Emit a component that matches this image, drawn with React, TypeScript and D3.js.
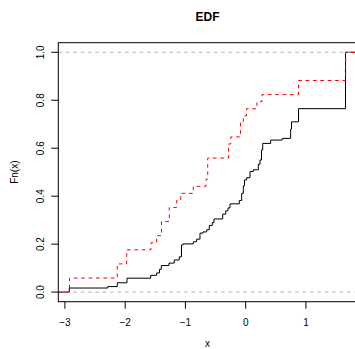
import React from "react";
import * as d3 from "d3";

// Black series: jump locations and level after each jump
const blackX = [-2.927, -2.29, -2.131, -1.97, -1.576, -1.477, -1.43, -1.4, -1.273, -1.185, -1.102, -1.065, -1.04, -0.869, -0.813, -0.758, -0.708, -0.647, -0.604, -0.554, -0.526, -0.381, -0.331, -0.293, -0.26, -0.106, -0.066, -0.039, -0.019, 0.017, 0.072, 0.127, 0.21, 0.238, 0.263, 0.283, 0.415, 0.608, 0.747, 0.761, 0.877, 1.657];
const blackF = [0.017, 0.023, 0.039, 0.058, 0.07, 0.08, 0.095, 0.111, 0.121, 0.134, 0.147, 0.197, 0.201, 0.21, 0.221, 0.246, 0.251, 0.26, 0.278, 0.29, 0.305, 0.325, 0.339, 0.351, 0.368, 0.382, 0.412, 0.443, 0.468, 0.477, 0.503, 0.51, 0.533, 0.551, 0.593, 0.62, 0.634, 0.641, 0.68, 0.71, 0.765, 1.0];

// Red series (n = 34, with ties)
const redX = [-2.924, -2.131, -1.975, -1.571, -1.477, -1.397, -1.268, -1.145, -1.078, -0.869, -0.658, -0.63, -0.285, -0.247, -0.086, -0.039, 0.014, 0.188, 0.271, 0.877, 1.66];
const redCounts = [2, 4, 6, 7, 8, 10, 12, 13, 14, 15, 16, 19, 21, 22, 24, 25, 26, 27, 28, 30, 34];
const redN = 34;

const xTicks = [-3, -2, -1, 0, 1];
const yTicks = [0, 0.2, 0.4, 0.6, 0.8, 1.0];
const xLim: [number, number] = [-3.11, 1.843];
const yLim: [number, number] = [-0.04, 1.04];

const W = 355;
const H = 349;
const L = 58.3;
const R = 356.7;
const T = 42.7;
const B = 301.7;

export default function App() {
  const x = d3.scaleLinear().domain(xLim).range([L, R]);
  const y = d3.scaleLinear().domain(yLim).range([B, T]);

  const line = d3
    .line<[number, number]>()
    .x((d) => x(d[0]))
    .y((d) => y(d[1]))
    .curve(d3.curveStepAfter);

  const blackPts: [number, number][] = [[xLim[0], 0], ...blackX.map((v, i) => [v, blackF[i]] as [number, number]), [xLim[1], 1]];
  const redPts: [number, number][] = [[xLim[0], 0], ...redX.map((v, i) => [v, redCounts[i] / redN] as [number, number]), [xLim[1], 1]];

  const font = "'Liberation Sans', Arial, Helvetica, sans-serif";
  const fmtX = (v: number) => (v < 0 ? "\u2212" + Math.abs(v) : String(v));

  return (
    <svg width={W} height={H} style={{ position: "absolute", left: 0, top: 0, background: "#fff" }} fontFamily={font}>
      <defs>
        <clipPath id="plotclip">
          <rect x={L} y={T} width={R - L} height={B - T} />
        </clipPath>
      </defs>
      <g clipPath="url(#plotclip)">
        <path d={line(blackPts) || ""} fill="none" stroke="#000" strokeWidth={1} />
        {[0, 1].map((v) => (
          <line key={"g" + v} x1={L} x2={R} y1={y(v)} y2={y(v)} stroke="#b3b3b3" strokeWidth={1} strokeDasharray="3.7,3.7" />
        ))}
        <path d={line(redPts) || ""} fill="none" stroke="#ff0000" strokeWidth={1} strokeDasharray="3.7,3.7" />
      </g>
      <rect x={L} y={T} width={R - L} height={B - T} fill="none" stroke="#000" strokeWidth={1} />
      {xTicks.map((t) => (
        <g key={"x" + t}>
          <line x1={x(t)} x2={x(t)} y1={B} y2={B + 7} stroke="#000" />
          <text x={x(t)} y={325.5} fontSize={10} textAnchor="middle">
            {fmtX(t)}
          </text>
        </g>
      ))}
      {yTicks.map((t) => (
        <g key={"y" + t}>
          <line x1={L - 7} x2={L} y1={y(t)} y2={y(t)} stroke="#000" />
          <text transform={`translate(${43.8},${y(t)}) rotate(-90)`} fontSize={10} textAnchor="middle">
            {t.toFixed(1)}
          </text>
        </g>
      ))}
      <text x={(L + R) / 2} y={20.8} fontSize={12} fontWeight="bold" textAnchor="middle">
        EDF
      </text>
      <text x={(L + R) / 2} y={347} fontSize={10} textAnchor="middle">
        x
      </text>
      <text transform={`translate(${17.5},${(T + B) / 2}) rotate(-90)`} fontSize={10} textAnchor="middle">
        Fn(x)
      </text>
    </svg>
  );
}
